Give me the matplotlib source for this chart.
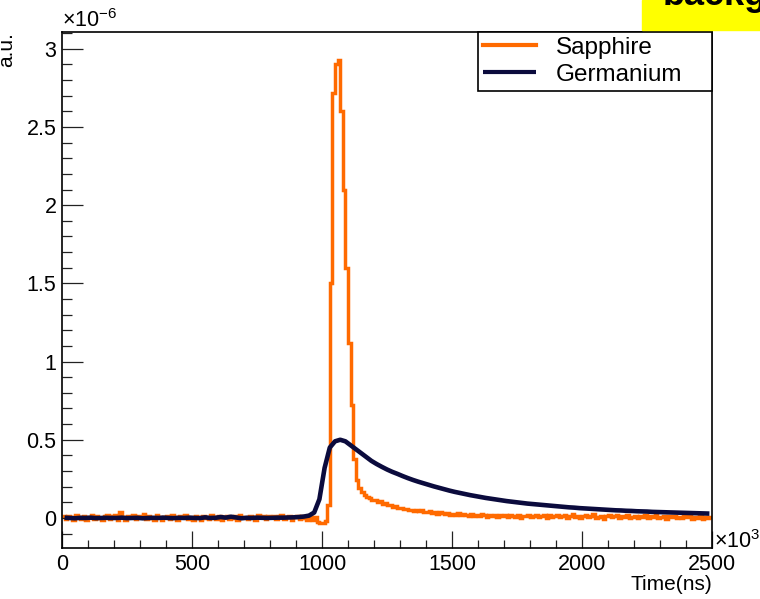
"""Sapphire vs Germanium pulse shapes, ROOT-style histogram plot."""

import numpy as np
import matplotlib
matplotlib.use("Agg")
import matplotlib.pyplot as plt
from matplotlib.patches import Rectangle
from matplotlib.ticker import MultipleLocator

plt.rcParams['font.family'] = ['Liberation Sans', 'DejaVu Sans']
plt.rcParams['mathtext.fontset'] = 'custom'
plt.rcParams['mathtext.rm'] = 'Liberation Sans'
plt.rcParams['mathtext.it'] = 'Liberation Sans:italic'

# time range in ns, bin contents in units of 1e-6 (a.u.)
t_min, t_max = 0, 2500

# Sapphire: 250 bins of 10 ns
sapphire = [
    0.010, -0.008, 0.015, 0.004, -0.012, 0.018, 0.006, -0.005, 0.012, -0.010,
    0.008, 0.020, -0.006, 0.014, 0.002, -0.015, 0.010, 0.016, -0.004, 0.012,
    0.022, -0.010, 0.035, 0.006, -0.012, 0.015, 0.003, 0.018, -0.008, 0.010,
    0.014, 0.025, -0.006, 0.012, 0.002, -0.010, 0.016, 0.004, -0.014, 0.009,
    0.012, -0.005, 0.018, 0.008, -0.016, 0.010, 0.003, 0.020, -0.006, 0.007,
    -0.010, 0.012, 0.004, -0.015, 0.014, 0.002, -0.008, 0.016, 0.006, -0.004,
    0.010, -0.012, 0.006, 0.014, -0.006, 0.002, 0.012, -0.010, 0.018, 0.004,
    0.008, -0.006, 0.014, 0.003, -0.012, 0.016, 0.006, 0.010, -0.008, 0.012,
    0.004, 0.015, -0.006, 0.010, 0.020, -0.004, 0.008, 0.014, -0.010, 0.006,
    0.012, -0.008, 0.010, 0.002, -0.012, 0.006, -0.015, 0.004, -0.025, -0.030,
    -0.030, -0.020, 0.080, 1.500, 2.720, 2.900, 2.930, 2.600, 2.100, 1.600,
    1.120, 0.720, 0.380, 0.240, 0.190, 0.165, 0.150, 0.135, 0.128, 0.118,
    0.112, 0.100, 0.106, 0.090, 0.094, 0.080, 0.086, 0.072, 0.078, 0.066,
    0.062, 0.056, 0.060, 0.050, 0.054, 0.046, 0.050, 0.042, 0.048, 0.040,
    0.036, 0.044, 0.032, 0.040, 0.028, 0.036, 0.030, 0.026, 0.034, 0.022,
    0.028, 0.018, 0.030, 0.016, 0.024, 0.020, 0.012, 0.026, 0.014, 0.022,
    0.010, 0.024, 0.016, 0.008, 0.020, 0.012, 0.018, 0.006, 0.022, 0.010,
    0.016, 0.004, 0.020, 0.012, 0.008, 0.018, 0.002, 0.014, 0.010, 0.020,
    0.006, 0.014, 0.022, 0.004, 0.012, 0.016, -0.002, 0.018, 0.008, 0.012,
    0.020, 0.004, 0.010, 0.016, 0.002, 0.014, 0.024, 0.006, 0.010, 0.000,
    0.012, 0.018, 0.004, 0.010, 0.026, 0.002, 0.008, 0.014, -0.004, 0.010,
    0.016, 0.004, 0.012, 0.020, 0.000, 0.010, 0.006, 0.018, 0.002, 0.008,
    0.014, -0.002, 0.010, 0.006, 0.016, 0.000, 0.012, 0.004, 0.020, 0.002,
    0.008, 0.012, -0.004, 0.010, 0.004, 0.014, 0.000, 0.008, -0.002, 0.012,
    0.004, 0.010, -0.006, 0.008, 0.002, 0.012, -0.004, 0.006, 0.000, 0.004,
]

# Germanium: 125 bins of 20 ns
germanium = [
    0.002, 0.000, -0.002, 0.001, 0.000, 0.002, -0.001, 0.000, 0.001, 0.000,
    0.000, 0.002, -0.001, 0.000, 0.001, -0.002, 0.000, 0.001, 0.000, 0.002,
    0.000, -0.001, 0.001, 0.000, 0.002, 0.000, -0.001, 0.004, 0.000, 0.001,
    0.006, 0.002, 0.008, 0.003, -0.002, 0.001, 0.000, 0.002, 0.001, 0.000,
    0.001, 0.002, 0.002, 0.003, 0.004, 0.006, 0.009, 0.015, 0.035, 0.120,
    0.320, 0.450, 0.490, 0.500, 0.490, 0.465, 0.440, 0.415, 0.390, 0.365,
    0.345, 0.327, 0.310, 0.295, 0.282, 0.268, 0.255, 0.243, 0.232, 0.222,
    0.212, 0.202, 0.193, 0.184, 0.175, 0.167, 0.160, 0.153, 0.146, 0.140,
    0.134, 0.128, 0.123, 0.118, 0.113, 0.108, 0.104, 0.100, 0.096, 0.092,
    0.089, 0.086, 0.083, 0.080, 0.077, 0.074, 0.071, 0.068, 0.066, 0.063,
    0.061, 0.059, 0.057, 0.055, 0.053, 0.051, 0.049, 0.048, 0.046, 0.045,
    0.043, 0.042, 0.041, 0.039, 0.038, 0.037, 0.036, 0.035, 0.034, 0.033,
    0.032, 0.031, 0.030, 0.029, 0.028,
]

labels = ['Sapphire', 'Germanium']
colors = ['#ff6a00', '#0b0b3d']

fig = plt.figure(figsize=(7.6, 5.99), dpi=100)
W, H = 760, 599
ax = fig.add_axes([62 / W, 1 - 548 / H, 650 / W, 516 / H])

edges_s = np.linspace(t_min, t_max, len(sapphire) + 1)
edges_g = np.linspace(t_min, t_max, len(germanium) + 1)
centers_g = 0.5 * (edges_g[:-1] + edges_g[1:])
ax.stairs(sapphire, edges_s, baseline=None, color=colors[0], lw=2.5, label=labels[0])
ax.plot(centers_g, germanium, color=colors[1], lw=3.3, label=labels[1],
        solid_joinstyle='round', solid_capstyle='butt')

ax.set_xlim(t_min, t_max)
ax.set_ylim(-0.192, 3.107)

ax.xaxis.set_major_locator(MultipleLocator(500))
ax.xaxis.set_minor_locator(MultipleLocator(100))
ax.yaxis.set_major_locator(MultipleLocator(0.5))
ax.yaxis.set_minor_locator(MultipleLocator(0.1))
ax.set_yticks(np.arange(0, 3.01, 0.5))
ax.set_yticklabels(['0', '0.5', '1', '1.5', '2', '2.5', '3'])

ax.tick_params(which='both', direction='in', top=False, right=False,
               labelsize=15.5, width=0.9, color='#222222')
ax.tick_params(axis='x', which='major', length=12, pad=4)
ax.tick_params(axis='x', which='minor', length=6)
ax.tick_params(axis='y', which='major', length=15, pad=4)
ax.tick_params(axis='y', which='minor', length=7)
for s in ax.spines.values():
    s.set_linewidth(1.2)

leg = ax.legend(loc='upper left', bbox_to_anchor=(0.64, 0.874, 0.36, 0.126),
                mode='expand', borderaxespad=0, fontsize=17.5, fancybox=False,
                edgecolor='black', framealpha=1, borderpad=0.2, labelspacing=0.2,
                handlelength=2.2, handletextpad=0.8)
leg.get_frame().set_linewidth(1.2)
for h in leg.get_lines():
    h.set_linewidth(3)

# axis titles and exponent labels (ROOT style)
fig.text(712 / W, 1 - 590 / H, 'Time(ns)', ha='right', va='baseline', fontsize=15)
fig.text(714 / W, 1 - 548 / H, r'$\times10^{3}$', ha='left', va='baseline', fontsize=15.5)
fig.text(62 / W, 1 - 27 / H, r'$\times10^{-6}$', ha='left', va='baseline', fontsize=15.5)
fig.text(12 / W, 1 - 32 / H, 'a.u.', rotation=90, rotation_mode='anchor',
         ha='right', va='baseline', fontsize=15)

# yellow label box, cut off at the top edge
fig.patches.append(Rectangle((642 / W, 1 - 30 / H), 118 / W, 30 / H,
                             transform=fig.transFigure, color='#ffff00', zorder=0))
fig.text(663 / W, 1 - 5 / H, 'background', ha='left', va='baseline',
         fontsize=26, fontweight='bold', color='black')

fig.savefig('out.png', dpi=100)
